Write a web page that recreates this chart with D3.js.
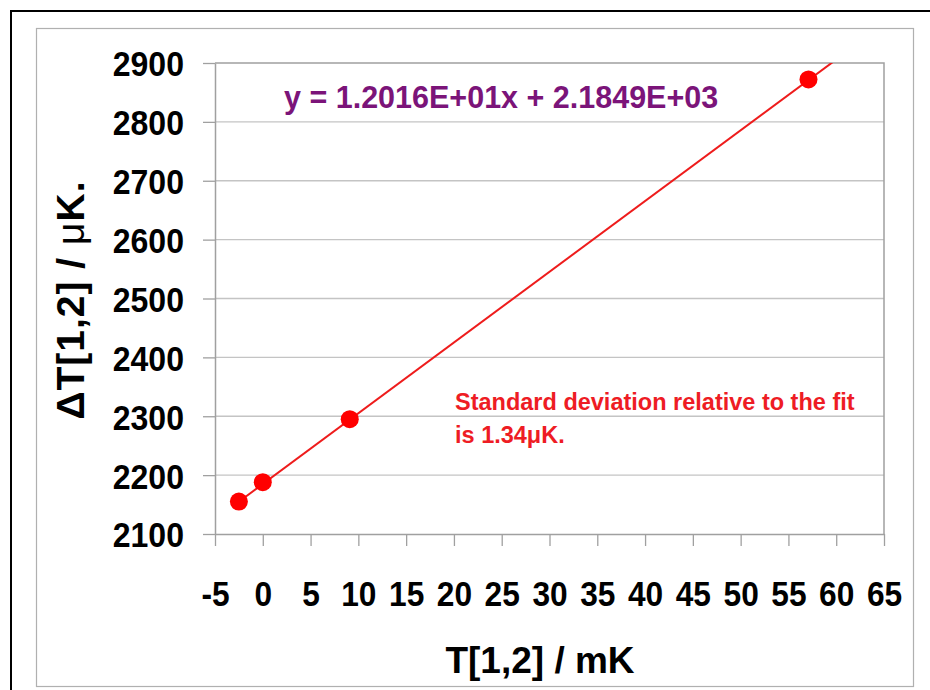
<!DOCTYPE html>
<html>
<head>
<meta charset="utf-8">
<script src="https://cdn.jsdelivr.net/npm/d3@7"></script>
<style>
  html, body { margin: 0; padding: 0; background: #fff; }
  svg { display: block; }
  text { font-family: "Liberation Sans", Arial, sans-serif; font-weight: bold; }
</style>
</head>
<body>
<svg id="chart" width="930" height="690"></svg>
<script>
// ---- data ----
const xValues = [-2.5, 0, 9.1, 57.1];
const yValues = [2155, 2188, 2295, 2872];
const fitSlope = [12.016];
const fitIntercept = [2184.9];
const xTicks = [-5, 0, 5, 10, 15, 20, 25, 30, 35, 40, 45, 50, 55, 60, 65];
const yTicks = [2100, 2200, 2300, 2400, 2500, 2600, 2700, 2800, 2900];
const equationText = "y = 1.2016E+01x + 2.1849E+03";
const noteLines = ["Standard deviation relative to the fit", "is 1.34\u03bcK."];
const xTitle = "T[1,2] / mK";

const svg = d3.select("#chart");

// outer frames
svg.append("rect").attr("x", 11).attr("y", 11).attr("width", 960).attr("height", 720)
  .attr("fill", "none").attr("stroke", "#000").attr("stroke-width", 2);
svg.append("rect").attr("x", 36.5).attr("y", 28.5).attr("width", 877).attr("height", 658)
  .attr("fill", "none").attr("stroke", "#b0b0b0").attr("stroke-width", 1.2);

const plot = { left: 215, right: 884, top: 63, bottom: 534 };
const x = d3.scaleLinear().domain([-5, 65]).range([plot.left, plot.right]);
const y = d3.scaleLinear().domain([2100, 2900]).range([plot.bottom, plot.top]);

// gridlines
svg.append("g").selectAll("line").data(yTicks.slice(1, -1)).join("line")
  .attr("x1", plot.left).attr("x2", plot.right)
  .attr("y1", d => y(d)).attr("y2", d => y(d))
  .attr("stroke", "#c4c4c4").attr("stroke-width", 1.3);

// plot frame (top/right)
svg.append("path")
  .attr("d", `M${plot.left},${plot.top}H${plot.right}V${plot.bottom}`)
  .attr("fill", "none").attr("stroke", "#a0a0a0").attr("stroke-width", 1.5);

const fmt = d => String(d);

// y axis
const yAxis = svg.append("g").attr("transform", `translate(${plot.left},0)`)
  .call(d3.axisLeft(y).tickValues(yTicks).tickSize(12).tickSizeOuter(0).tickFormat(fmt));
yAxis.select(".domain").attr("stroke", "#a0a0a0").attr("stroke-width", 1.5);
yAxis.selectAll(".tick line").attr("stroke", "#a0a0a0").attr("stroke-width", 1.3);
yAxis.selectAll(".tick text")
  .attr("x", 0).attr("dy", "0.36em")
  .attr("transform", "translate(-31,0) scale(0.89,1)")
  .attr("fill", "#000").style("font-size", "36px").style("font-weight", "bold")
  .style("font-family", "'Liberation Sans', Arial, sans-serif");

// x axis
const xAxis = svg.append("g").attr("transform", `translate(0,${plot.bottom})`)
  .call(d3.axisBottom(x).tickValues(xTicks).tickSize(12).tickSizeOuter(0).tickFormat(fmt));
xAxis.select(".domain").attr("stroke", "#a0a0a0").attr("stroke-width", 1.5);
xAxis.selectAll(".tick line").attr("stroke", "#a0a0a0").attr("stroke-width", 1.3);
xAxis.selectAll(".tick text")
  .attr("y", 72).attr("dy", 0)
  .attr("transform", "scale(0.88,1)")
  .attr("fill", "#000").style("font-size", "36px").style("font-weight", "bold")
  .style("font-family", "'Liberation Sans', Arial, sans-serif");

// clip for fit line
svg.append("clipPath").attr("id", "plotclip").append("rect")
  .attr("x", plot.left).attr("y", plot.top)
  .attr("width", plot.right - plot.left).attr("height", plot.bottom - plot.top);

// fit line from first point to plot edge
const xStart = d3.min(xValues);
const xEnd = 65;
const fitPts = [xStart, xEnd].map(v => [v, fitSlope[0] * v + fitIntercept[0]]);
svg.append("path")
  .attr("clip-path", "url(#plotclip)")
  .attr("d", d3.line().x(d => x(d[0])).y(d => y(d[1]))(fitPts))
  .attr("stroke", "#ee1c1c").attr("stroke-width", 2).attr("fill", "none");

// points
svg.append("g").selectAll("circle").data(xValues.map((v, i) => [v, yValues[i]])).join("circle")
  .attr("cx", d => x(d[0])).attr("cy", d => y(d[1])).attr("r", 9)
  .attr("fill", "#ff0000");

// equation
svg.append("text").attr("x", 284).attr("y", 108)
  .attr("fill", "#7b1479").style("font-size", "30.5px").text(equationText);

// note
svg.append("g").selectAll("text").data(noteLines).join("text")
  .attr("x", 455).attr("y", (d, i) => 410 + i * 33)
  .attr("fill", "#ee1c24").style("font-size", "23.5px")
  .text(d => d);

// axis titles
svg.append("text").attr("x", 540).attr("y", 673).attr("text-anchor", "middle")
  .attr("fill", "#000").style("font-size", "37px").text(xTitle);

const yt = svg.append("text").attr("transform", "translate(84,300) rotate(-90)")
  .attr("text-anchor", "middle").attr("fill", "#000").style("font-size", "39px")
  .style("letter-spacing", "1px");
yt.append("tspan").text("\u0394T[1,2] / ");
yt.append("tspan").style("font-weight", "normal").text("\u03bc");
yt.append("tspan").text("K.");
</script>
</body>
</html>
